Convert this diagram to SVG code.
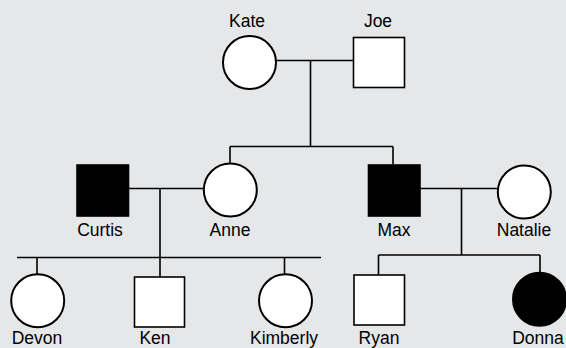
<svg xmlns="http://www.w3.org/2000/svg" width="566" height="348" viewBox="0 0 566 348">
<style>
.bg{fill:#e6e7e9}
.m{fill:#fff;stroke:#000;stroke-width:1.6}
.a{fill:#000;stroke:#000;stroke-width:1.6}
.f{fill:#fff;stroke:#000;stroke-width:2}
.fa{fill:#000;stroke:#000;stroke-width:2}
.l{fill:none;stroke:#000;stroke-width:1.6}
text{font-family:"Liberation Sans",Arial,sans-serif;font-size:17.5px;fill:#000;text-anchor:middle}
</style>
<rect class="bg" x="0" y="0" width="566" height="348"/>
<g id="connectors">
<path class="l" d="M276 60.5H353.5M310.5 60.5V146.5M230 146.5H393M230 146.5V163.5M393 146.5V164.5"/>
<path class="l" d="M129 188.5H204M160 188.5V277M17 257.5H321M37 257.5V274M284.5 257.5V274"/>
<path class="l" d="M420 188.5H497.5M461.5 188.5V255M378.5 255H540M378.5 255V275M540 255V273"/>
</g>
<g id="kate"><circle class="f" cx="249.5" cy="62.5" r="26.5"/><text x="247" y="27">Kate</text></g>
<g id="joe"><rect class="m" x="353.5" y="37.5" width="51" height="50"/><text x="378" y="27">Joe</text></g>
<g id="curtis"><rect class="a" x="77" y="165" width="51.5" height="51"/><text x="100" y="236">Curtis</text></g>
<g id="anne"><circle class="f" cx="230.3" cy="190" r="26.5"/><text x="230" y="236">Anne</text></g>
<g id="max"><rect class="a" x="368.5" y="165" width="51.5" height="51"/><text x="394" y="236">Max</text></g>
<g id="natalie"><circle class="f" cx="524.3" cy="192" r="26.5"/><text x="524" y="236">Natalie</text></g>
<g id="devon"><circle class="f" cx="37.7" cy="300.7" r="26.5"/><text x="37" y="344">Devon</text></g>
<g id="ken"><rect class="m" x="134.5" y="277" width="50" height="50"/><text x="155" y="344">Ken</text></g>
<g id="kimberly"><circle class="f" cx="285.5" cy="300.7" r="26.5"/><text x="284" y="344">Kimberly</text></g>
<g id="ryan"><rect class="m" x="354" y="275" width="50.5" height="50"/><text x="379" y="344">Ryan</text></g>
<g id="donna"><circle class="fa" cx="539.5" cy="299.3" r="26.5"/><text x="538" y="344">Donna</text></g>
</svg>
